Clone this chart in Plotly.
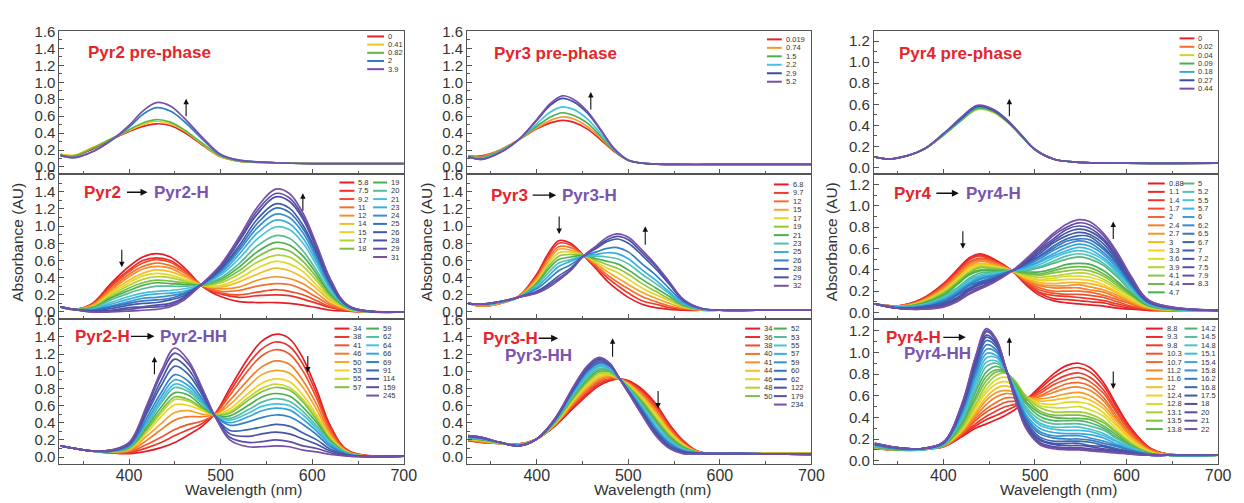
import plotly.graph_objects as go
from plotly.colors import sample_colorscale

# ------------------------------------------------------------------ data
# Pyr2 pre-phase
WL_A = [325, 340, 360, 380, 400, 415, 430, 445, 460, 480, 500, 520, 560, 600, 640, 700]
LAB_A = ["0", "0.41", "0.82", "2", "3.9"]
SPEC_A = [
    [0.15, 0.13, 0.21, 0.32, 0.42, 0.48, 0.51, 0.49, 0.41, 0.26, 0.12, 0.07, 0.05, 0.04, 0.04, 0.04],
    [0.15, 0.14, 0.23, 0.33, 0.43, 0.50, 0.54, 0.51, 0.43, 0.27, 0.12, 0.07, 0.05, 0.04, 0.04, 0.04],
    [0.14, 0.13, 0.22, 0.33, 0.44, 0.52, 0.56, 0.53, 0.44, 0.28, 0.13, 0.07, 0.05, 0.04, 0.04, 0.04],
    [0.13, 0.11, 0.18, 0.31, 0.47, 0.62, 0.70, 0.66, 0.54, 0.33, 0.14, 0.08, 0.05, 0.04, 0.04, 0.04],
    [0.14, 0.11, 0.18, 0.31, 0.49, 0.66, 0.76, 0.72, 0.58, 0.35, 0.15, 0.08, 0.05, 0.04, 0.04, 0.04],
]

# Pyr2 -> Pyr2-H
WL_B = [325, 340, 360, 380, 400, 415, 430, 445, 460, 480, 500, 520, 540, 560, 575, 590, 605, 620, 640, 700]
LAB_B = ["5.8", "7.5", "9.2", "11", "12", "14", "15", "17", "18", "19", "20", "21", "23", "24", "25", "26", "28", "29", "31"]
SPEC_B = [
    [0.06, 0.03, 0.10, 0.33, 0.53, 0.64, 0.68, 0.64, 0.52, 0.30, 0.18, 0.12, 0.11, 0.11, 0.10, 0.08, 0.05, 0.02, 0.01, 0.00],
    [0.06, 0.03, 0.09, 0.31, 0.49, 0.60, 0.63, 0.60, 0.49, 0.30, 0.21, 0.17, 0.19, 0.20, 0.19, 0.15, 0.10, 0.05, 0.01, 0.00],
    [0.06, 0.03, 0.09, 0.29, 0.47, 0.57, 0.61, 0.58, 0.48, 0.30, 0.22, 0.20, 0.23, 0.26, 0.24, 0.20, 0.13, 0.06, 0.02, 0.00],
    [0.06, 0.03, 0.08, 0.27, 0.44, 0.53, 0.57, 0.54, 0.46, 0.31, 0.24, 0.25, 0.30, 0.33, 0.32, 0.26, 0.17, 0.08, 0.02, 0.00],
    [0.06, 0.03, 0.08, 0.25, 0.41, 0.50, 0.53, 0.51, 0.43, 0.31, 0.27, 0.29, 0.37, 0.41, 0.39, 0.33, 0.22, 0.10, 0.02, 0.00],
    [0.06, 0.03, 0.07, 0.23, 0.37, 0.45, 0.49, 0.47, 0.41, 0.31, 0.29, 0.35, 0.44, 0.51, 0.48, 0.40, 0.27, 0.13, 0.03, 0.00],
    [0.06, 0.03, 0.06, 0.21, 0.34, 0.42, 0.45, 0.43, 0.38, 0.31, 0.31, 0.39, 0.51, 0.59, 0.56, 0.47, 0.31, 0.15, 0.03, 0.00],
    [0.06, 0.03, 0.06, 0.19, 0.31, 0.38, 0.41, 0.40, 0.36, 0.31, 0.34, 0.44, 0.58, 0.66, 0.64, 0.53, 0.36, 0.17, 0.04, 0.00],
    [0.06, 0.03, 0.05, 0.17, 0.28, 0.34, 0.37, 0.36, 0.34, 0.31, 0.36, 0.48, 0.64, 0.74, 0.71, 0.59, 0.40, 0.19, 0.04, 0.00],
    [0.06, 0.03, 0.05, 0.16, 0.25, 0.31, 0.34, 0.33, 0.32, 0.32, 0.38, 0.52, 0.70, 0.81, 0.78, 0.65, 0.44, 0.21, 0.04, 0.00],
    [0.06, 0.03, 0.04, 0.14, 0.22, 0.27, 0.30, 0.30, 0.30, 0.32, 0.40, 0.56, 0.77, 0.89, 0.86, 0.71, 0.48, 0.23, 0.05, 0.00],
    [0.06, 0.03, 0.03, 0.11, 0.18, 0.22, 0.24, 0.25, 0.27, 0.32, 0.43, 0.62, 0.85, 0.99, 0.96, 0.80, 0.54, 0.26, 0.05, 0.00],
    [0.06, 0.03, 0.03, 0.09, 0.15, 0.19, 0.21, 0.22, 0.24, 0.32, 0.45, 0.67, 0.92, 1.07, 1.03, 0.86, 0.58, 0.28, 0.05, 0.00],
    [0.06, 0.03, 0.02, 0.07, 0.12, 0.16, 0.17, 0.19, 0.22, 0.32, 0.47, 0.71, 0.98, 1.14, 1.10, 0.92, 0.62, 0.30, 0.06, 0.00],
    [0.06, 0.03, 0.02, 0.06, 0.10, 0.13, 0.14, 0.16, 0.21, 0.32, 0.49, 0.74, 1.03, 1.21, 1.16, 0.97, 0.66, 0.32, 0.06, 0.00],
    [0.06, 0.03, 0.01, 0.04, 0.08, 0.10, 0.11, 0.14, 0.19, 0.33, 0.50, 0.77, 1.08, 1.26, 1.21, 1.01, 0.69, 0.33, 0.06, 0.00],
    [0.06, 0.03, 0.01, 0.02, 0.05, 0.06, 0.08, 0.10, 0.17, 0.33, 0.52, 0.82, 1.14, 1.34, 1.29, 1.08, 0.73, 0.36, 0.07, 0.00],
    [0.06, 0.03, 0.00, 0.01, 0.03, 0.05, 0.06, 0.08, 0.16, 0.33, 0.54, 0.84, 1.18, 1.38, 1.33, 1.11, 0.75, 0.37, 0.07, 0.00],
    [0.06, 0.03, 0.00, 0.00, 0.01, 0.02, 0.03, 0.06, 0.14, 0.33, 0.55, 0.87, 1.22, 1.43, 1.38, 1.15, 0.78, 0.38, 0.07, 0.00],
]

# Pyr2-H -> Pyr2-HH
WL_C = [325, 340, 360, 380, 400, 420, 435, 450, 465, 480, 495, 510, 530, 545, 560, 575, 590, 605, 620, 640, 700]
LAB_C = ["34", "38", "41", "46", "50", "53", "55", "57", "59", "62", "64", "66", "69", "91", "114", "159", "245"]
SPEC_C = [
    [0.13, 0.10, 0.07, 0.05, 0.04, 0.07, 0.11, 0.17, 0.26, 0.36, 0.52, 0.80, 1.15, 1.35, 1.43, 1.38, 1.15, 0.78, 0.36, 0.07, 0.01],
    [0.13, 0.10, 0.07, 0.05, 0.05, 0.11, 0.17, 0.25, 0.32, 0.39, 0.52, 0.76, 1.08, 1.26, 1.34, 1.29, 1.08, 0.73, 0.34, 0.07, 0.01],
    [0.13, 0.10, 0.07, 0.05, 0.06, 0.15, 0.23, 0.32, 0.38, 0.42, 0.51, 0.72, 1.01, 1.18, 1.25, 1.20, 1.00, 0.68, 0.31, 0.06, 0.01],
    [0.13, 0.10, 0.07, 0.06, 0.07, 0.20, 0.32, 0.43, 0.47, 0.47, 0.50, 0.66, 0.90, 1.05, 1.12, 1.08, 0.89, 0.61, 0.28, 0.06, 0.01],
    [0.13, 0.10, 0.07, 0.06, 0.08, 0.25, 0.39, 0.52, 0.54, 0.50, 0.50, 0.61, 0.82, 0.96, 1.01, 0.98, 0.81, 0.55, 0.25, 0.05, 0.01],
    [0.13, 0.10, 0.07, 0.06, 0.09, 0.29, 0.47, 0.61, 0.60, 0.54, 0.49, 0.56, 0.74, 0.86, 0.91, 0.88, 0.72, 0.49, 0.23, 0.05, 0.01],
    [0.13, 0.10, 0.07, 0.06, 0.10, 0.32, 0.51, 0.67, 0.65, 0.56, 0.49, 0.53, 0.69, 0.80, 0.85, 0.81, 0.67, 0.46, 0.21, 0.04, 0.01],
    [0.13, 0.10, 0.07, 0.06, 0.10, 0.33, 0.54, 0.70, 0.67, 0.57, 0.49, 0.51, 0.66, 0.76, 0.81, 0.78, 0.64, 0.43, 0.20, 0.04, 0.01],
    [0.13, 0.10, 0.07, 0.07, 0.11, 0.36, 0.58, 0.75, 0.72, 0.59, 0.48, 0.48, 0.60, 0.70, 0.74, 0.71, 0.58, 0.40, 0.19, 0.04, 0.01],
    [0.13, 0.10, 0.07, 0.07, 0.12, 0.39, 0.63, 0.81, 0.76, 0.62, 0.48, 0.45, 0.55, 0.64, 0.68, 0.65, 0.53, 0.36, 0.17, 0.04, 0.01],
    [0.13, 0.10, 0.07, 0.07, 0.12, 0.41, 0.66, 0.85, 0.79, 0.63, 0.48, 0.43, 0.51, 0.59, 0.62, 0.60, 0.49, 0.33, 0.16, 0.03, 0.01],
    [0.13, 0.10, 0.07, 0.07, 0.13, 0.43, 0.70, 0.90, 0.83, 0.65, 0.47, 0.40, 0.47, 0.54, 0.57, 0.55, 0.44, 0.30, 0.14, 0.03, 0.01],
    [0.13, 0.10, 0.07, 0.07, 0.13, 0.47, 0.75, 0.96, 0.88, 0.68, 0.47, 0.37, 0.41, 0.46, 0.49, 0.47, 0.38, 0.26, 0.12, 0.03, 0.01],
    [0.13, 0.10, 0.07, 0.07, 0.15, 0.52, 0.83, 1.06, 0.96, 0.72, 0.46, 0.31, 0.32, 0.35, 0.38, 0.36, 0.28, 0.20, 0.09, 0.02, 0.01],
    [0.13, 0.10, 0.07, 0.08, 0.15, 0.55, 0.89, 1.14, 1.02, 0.75, 0.46, 0.27, 0.24, 0.27, 0.29, 0.27, 0.21, 0.15, 0.07, 0.02, 0.01],
    [0.13, 0.10, 0.07, 0.08, 0.16, 0.59, 0.96, 1.21, 1.08, 0.78, 0.45, 0.23, 0.17, 0.18, 0.20, 0.18, 0.13, 0.10, 0.05, 0.01, 0.01],
    [0.13, 0.10, 0.07, 0.08, 0.17, 0.62, 1.00, 1.27, 1.12, 0.80, 0.45, 0.20, 0.12, 0.12, 0.13, 0.12, 0.08, 0.06, 0.03, 0.01, 0.01],
]

# Pyr3 pre-phase
WL_D = [325, 340, 360, 380, 400, 415, 428, 440, 455, 470, 485, 500, 520, 560, 600, 640, 700]
LAB_D = ["0.019", "0.74", "1.5", "2.2", "2.9", "5.2"]
SPEC_D = [
    [0.13, 0.13, 0.20, 0.32, 0.45, 0.52, 0.55, 0.53, 0.45, 0.32, 0.18, 0.08, 0.04, 0.03, 0.03, 0.03, 0.03],
    [0.13, 0.12, 0.20, 0.32, 0.46, 0.55, 0.59, 0.57, 0.48, 0.34, 0.19, 0.08, 0.04, 0.03, 0.03, 0.03, 0.03],
    [0.13, 0.11, 0.19, 0.32, 0.48, 0.59, 0.64, 0.61, 0.52, 0.36, 0.19, 0.08, 0.04, 0.03, 0.03, 0.03, 0.03],
    [0.12, 0.10, 0.18, 0.32, 0.51, 0.65, 0.71, 0.68, 0.57, 0.39, 0.20, 0.08, 0.04, 0.03, 0.03, 0.03, 0.03],
    [0.12, 0.09, 0.17, 0.32, 0.55, 0.73, 0.81, 0.77, 0.64, 0.43, 0.21, 0.08, 0.04, 0.03, 0.03, 0.03, 0.03],
    [0.12, 0.09, 0.17, 0.32, 0.56, 0.75, 0.84, 0.80, 0.66, 0.44, 0.21, 0.08, 0.04, 0.03, 0.03, 0.03, 0.03],
]

# Pyr3 -> Pyr3-H
WL_E = [325, 340, 360, 380, 400, 412, 424, 437, 451, 465, 477, 488, 500, 515, 530, 545, 560, 580, 600, 640, 700]
LAB_E = ["6.8", "9.7", "12", "15", "17", "19", "21", "23", "25", "26", "28", "29", "32"]
SPEC_E = [
    [0.10, 0.07, 0.10, 0.18, 0.44, 0.67, 0.83, 0.80, 0.66, 0.50, 0.36, 0.26, 0.17, 0.09, 0.05, 0.03, 0.02, 0.02, 0.02, 0.02, 0.02],
    [0.10, 0.07, 0.10, 0.18, 0.42, 0.64, 0.80, 0.78, 0.66, 0.52, 0.40, 0.31, 0.22, 0.13, 0.09, 0.05, 0.03, 0.02, 0.02, 0.02, 0.02],
    [0.10, 0.07, 0.10, 0.18, 0.40, 0.61, 0.76, 0.75, 0.66, 0.54, 0.43, 0.35, 0.27, 0.18, 0.12, 0.07, 0.04, 0.02, 0.02, 0.02, 0.02],
    [0.10, 0.07, 0.10, 0.17, 0.38, 0.58, 0.73, 0.72, 0.66, 0.56, 0.47, 0.40, 0.32, 0.23, 0.16, 0.10, 0.05, 0.02, 0.02, 0.02, 0.02],
    [0.10, 0.08, 0.11, 0.17, 0.36, 0.55, 0.69, 0.70, 0.66, 0.58, 0.51, 0.46, 0.38, 0.28, 0.20, 0.13, 0.06, 0.03, 0.02, 0.02, 0.02],
    [0.10, 0.08, 0.11, 0.17, 0.34, 0.52, 0.65, 0.67, 0.66, 0.60, 0.55, 0.51, 0.44, 0.33, 0.24, 0.15, 0.07, 0.03, 0.02, 0.02, 0.02],
    [0.10, 0.08, 0.11, 0.17, 0.33, 0.49, 0.61, 0.64, 0.66, 0.62, 0.59, 0.56, 0.49, 0.38, 0.28, 0.18, 0.08, 0.03, 0.02, 0.02, 0.02],
    [0.10, 0.08, 0.11, 0.17, 0.31, 0.45, 0.57, 0.61, 0.65, 0.65, 0.64, 0.62, 0.56, 0.44, 0.33, 0.21, 0.09, 0.03, 0.02, 0.02, 0.02],
    [0.10, 0.08, 0.11, 0.17, 0.29, 0.41, 0.53, 0.59, 0.65, 0.67, 0.69, 0.68, 0.62, 0.49, 0.37, 0.23, 0.10, 0.03, 0.02, 0.02, 0.02],
    [0.10, 0.09, 0.12, 0.17, 0.27, 0.37, 0.48, 0.55, 0.65, 0.70, 0.74, 0.75, 0.70, 0.56, 0.43, 0.27, 0.12, 0.04, 0.02, 0.02, 0.02],
    [0.10, 0.09, 0.12, 0.17, 0.24, 0.32, 0.42, 0.51, 0.65, 0.74, 0.82, 0.85, 0.80, 0.66, 0.50, 0.32, 0.14, 0.04, 0.02, 0.02, 0.02],
    [0.10, 0.09, 0.12, 0.17, 0.23, 0.30, 0.39, 0.49, 0.65, 0.76, 0.84, 0.88, 0.84, 0.69, 0.53, 0.33, 0.14, 0.04, 0.02, 0.02, 0.02],
    [0.10, 0.09, 0.12, 0.17, 0.22, 0.28, 0.37, 0.48, 0.65, 0.77, 0.87, 0.91, 0.87, 0.72, 0.55, 0.35, 0.15, 0.04, 0.02, 0.02, 0.02],
]

# Pyr3-H -> Pyr3-HH
WL_F = [325, 340, 360, 380, 400, 420, 440, 455, 468, 480, 490, 500, 515, 530, 545, 560, 575, 590, 620, 700]
LAB_F = ["34", "36", "38", "40", "41", "44", "46", "48", "50", "52", "53", "55", "57", "59", "60", "62", "122", "179", "234"]
SPEC_F = [
    [0.19, 0.17, 0.16, 0.15, 0.21, 0.36, 0.57, 0.72, 0.83, 0.89, 0.91, 0.89, 0.79, 0.62, 0.38, 0.19, 0.07, 0.04, 0.04, 0.04],
    [0.19, 0.17, 0.16, 0.15, 0.21, 0.37, 0.59, 0.74, 0.85, 0.90, 0.91, 0.88, 0.77, 0.60, 0.36, 0.18, 0.07, 0.04, 0.04, 0.04],
    [0.20, 0.18, 0.16, 0.15, 0.21, 0.37, 0.60, 0.76, 0.87, 0.91, 0.91, 0.87, 0.75, 0.58, 0.35, 0.17, 0.07, 0.04, 0.04, 0.04],
    [0.20, 0.18, 0.16, 0.15, 0.21, 0.38, 0.62, 0.78, 0.89, 0.93, 0.91, 0.86, 0.74, 0.55, 0.33, 0.16, 0.06, 0.04, 0.04, 0.04],
    [0.20, 0.18, 0.16, 0.15, 0.21, 0.38, 0.63, 0.80, 0.91, 0.94, 0.91, 0.86, 0.72, 0.53, 0.31, 0.15, 0.06, 0.04, 0.04, 0.04],
    [0.21, 0.19, 0.16, 0.14, 0.21, 0.39, 0.65, 0.82, 0.93, 0.95, 0.91, 0.85, 0.70, 0.51, 0.30, 0.15, 0.06, 0.04, 0.04, 0.04],
    [0.21, 0.19, 0.16, 0.14, 0.21, 0.39, 0.66, 0.84, 0.95, 0.96, 0.91, 0.84, 0.68, 0.49, 0.28, 0.14, 0.06, 0.04, 0.04, 0.04],
    [0.22, 0.20, 0.16, 0.14, 0.21, 0.40, 0.68, 0.86, 0.97, 0.97, 0.91, 0.83, 0.66, 0.46, 0.26, 0.13, 0.06, 0.04, 0.04, 0.04],
    [0.22, 0.20, 0.16, 0.14, 0.21, 0.40, 0.69, 0.88, 0.99, 0.99, 0.91, 0.82, 0.65, 0.44, 0.25, 0.12, 0.06, 0.04, 0.04, 0.04],
    [0.22, 0.20, 0.17, 0.14, 0.21, 0.41, 0.71, 0.90, 1.01, 1.00, 0.92, 0.81, 0.63, 0.42, 0.23, 0.11, 0.05, 0.04, 0.04, 0.03],
    [0.23, 0.21, 0.17, 0.14, 0.21, 0.41, 0.72, 0.92, 1.03, 1.01, 0.92, 0.81, 0.61, 0.40, 0.21, 0.10, 0.05, 0.04, 0.04, 0.03],
    [0.23, 0.21, 0.17, 0.14, 0.21, 0.42, 0.74, 0.94, 1.05, 1.02, 0.92, 0.80, 0.59, 0.38, 0.20, 0.09, 0.05, 0.04, 0.04, 0.03],
    [0.23, 0.21, 0.17, 0.14, 0.21, 0.42, 0.75, 0.96, 1.07, 1.03, 0.92, 0.79, 0.57, 0.35, 0.18, 0.08, 0.05, 0.04, 0.04, 0.03],
    [0.24, 0.22, 0.17, 0.13, 0.21, 0.43, 0.77, 0.99, 1.09, 1.05, 0.92, 0.78, 0.56, 0.33, 0.16, 0.07, 0.05, 0.04, 0.04, 0.03],
    [0.24, 0.22, 0.17, 0.13, 0.21, 0.43, 0.78, 1.00, 1.10, 1.06, 0.92, 0.77, 0.54, 0.31, 0.15, 0.07, 0.05, 0.04, 0.04, 0.03],
    [0.24, 0.22, 0.17, 0.13, 0.21, 0.44, 0.79, 1.02, 1.12, 1.07, 0.92, 0.77, 0.53, 0.29, 0.13, 0.06, 0.04, 0.04, 0.04, 0.03],
    [0.25, 0.23, 0.17, 0.13, 0.21, 0.44, 0.80, 1.04, 1.14, 1.08, 0.92, 0.76, 0.51, 0.28, 0.12, 0.05, 0.04, 0.04, 0.04, 0.03],
    [0.25, 0.23, 0.17, 0.13, 0.21, 0.45, 0.81, 1.05, 1.15, 1.08, 0.92, 0.75, 0.50, 0.26, 0.11, 0.04, 0.04, 0.04, 0.04, 0.03],
    [0.25, 0.23, 0.17, 0.13, 0.21, 0.45, 0.82, 1.06, 1.16, 1.09, 0.92, 0.75, 0.49, 0.25, 0.10, 0.04, 0.04, 0.04, 0.04, 0.03],
]

# Pyr4 pre-phase
WL_G = [325, 340, 360, 380, 400, 420, 437, 455, 470, 485, 500, 520, 545, 600, 700]
LAB_G = ["0", "0.02", "0.04", "0.09", "0.18", "0.27", "0.44"]
SPEC_G = [
    [0.10, 0.08, 0.11, 0.18, 0.31, 0.46, 0.57, 0.53, 0.44, 0.30, 0.17, 0.08, 0.05, 0.04, 0.04],
    [0.10, 0.08, 0.11, 0.18, 0.31, 0.46, 0.57, 0.53, 0.44, 0.30, 0.17, 0.08, 0.05, 0.04, 0.04],
    [0.10, 0.08, 0.11, 0.18, 0.30, 0.45, 0.55, 0.52, 0.43, 0.30, 0.17, 0.08, 0.05, 0.04, 0.04],
    [0.10, 0.08, 0.11, 0.18, 0.31, 0.45, 0.56, 0.53, 0.43, 0.30, 0.17, 0.08, 0.05, 0.04, 0.04],
    [0.10, 0.08, 0.11, 0.18, 0.31, 0.46, 0.57, 0.54, 0.44, 0.30, 0.17, 0.08, 0.05, 0.04, 0.04],
    [0.10, 0.08, 0.11, 0.18, 0.32, 0.47, 0.58, 0.54, 0.44, 0.31, 0.17, 0.08, 0.05, 0.04, 0.04],
    [0.10, 0.08, 0.11, 0.18, 0.32, 0.48, 0.59, 0.55, 0.45, 0.31, 0.17, 0.08, 0.05, 0.04, 0.04],
]

# Pyr4 -> Pyr4-H
WL_H = [325, 350, 375, 400, 415, 428, 440, 455, 475, 490, 505, 520, 535, 548, 560, 575, 590, 605, 625, 700]
LAB_H = ["0.88", "1.1", "1.4", "1.7", "2", "2.4", "2.7", "3", "3.3", "3.6", "3.9", "4.1", "4.4", "4.7",
         "5", "5.2", "5.5", "5.7", "6", "6.2", "6.5", "6.7", "7", "7.2", "7.5", "7.9", "8.3"]
SPEC_H = [
    [0.08, 0.06, 0.12, 0.27, 0.40, 0.51, 0.55, 0.50, 0.39, 0.26, 0.16, 0.11, 0.09, 0.08, 0.07, 0.06, 0.04, 0.03, 0.02, 0.02],
    [0.08, 0.06, 0.12, 0.26, 0.39, 0.50, 0.54, 0.49, 0.39, 0.27, 0.18, 0.13, 0.12, 0.11, 0.10, 0.09, 0.06, 0.04, 0.02, 0.02],
    [0.08, 0.06, 0.11, 0.25, 0.38, 0.49, 0.53, 0.48, 0.39, 0.28, 0.19, 0.16, 0.15, 0.14, 0.13, 0.11, 0.08, 0.05, 0.03, 0.02],
    [0.08, 0.06, 0.11, 0.25, 0.37, 0.47, 0.51, 0.48, 0.39, 0.29, 0.21, 0.18, 0.17, 0.17, 0.16, 0.14, 0.10, 0.06, 0.03, 0.02],
    [0.08, 0.06, 0.11, 0.24, 0.36, 0.46, 0.50, 0.47, 0.39, 0.30, 0.23, 0.20, 0.20, 0.20, 0.19, 0.16, 0.12, 0.08, 0.03, 0.02],
    [0.08, 0.06, 0.10, 0.23, 0.34, 0.45, 0.49, 0.46, 0.39, 0.30, 0.25, 0.23, 0.23, 0.23, 0.21, 0.19, 0.14, 0.09, 0.04, 0.02],
    [0.08, 0.06, 0.10, 0.22, 0.33, 0.43, 0.48, 0.45, 0.39, 0.31, 0.26, 0.25, 0.25, 0.26, 0.24, 0.21, 0.16, 0.10, 0.04, 0.02],
    [0.08, 0.05, 0.10, 0.21, 0.32, 0.42, 0.46, 0.44, 0.39, 0.32, 0.28, 0.27, 0.28, 0.28, 0.27, 0.24, 0.18, 0.11, 0.04, 0.02],
    [0.08, 0.05, 0.09, 0.20, 0.31, 0.41, 0.45, 0.43, 0.39, 0.33, 0.30, 0.30, 0.31, 0.31, 0.30, 0.26, 0.19, 0.12, 0.05, 0.02],
    [0.08, 0.05, 0.09, 0.20, 0.30, 0.40, 0.44, 0.43, 0.39, 0.34, 0.31, 0.32, 0.34, 0.34, 0.33, 0.29, 0.21, 0.13, 0.05, 0.02],
    [0.08, 0.05, 0.09, 0.19, 0.29, 0.38, 0.43, 0.42, 0.39, 0.35, 0.33, 0.34, 0.36, 0.37, 0.36, 0.31, 0.23, 0.15, 0.05, 0.02],
    [0.08, 0.05, 0.08, 0.18, 0.28, 0.37, 0.42, 0.41, 0.39, 0.36, 0.35, 0.37, 0.39, 0.40, 0.39, 0.34, 0.25, 0.16, 0.06, 0.02],
    [0.08, 0.05, 0.08, 0.17, 0.27, 0.36, 0.40, 0.40, 0.39, 0.37, 0.36, 0.39, 0.42, 0.43, 0.42, 0.36, 0.27, 0.17, 0.06, 0.02],
    [0.08, 0.05, 0.08, 0.16, 0.26, 0.35, 0.39, 0.39, 0.39, 0.38, 0.38, 0.41, 0.45, 0.46, 0.45, 0.39, 0.29, 0.18, 0.06, 0.02],
    [0.08, 0.05, 0.07, 0.15, 0.23, 0.32, 0.37, 0.38, 0.39, 0.39, 0.42, 0.46, 0.50, 0.52, 0.50, 0.44, 0.33, 0.20, 0.07, 0.02],
    [0.08, 0.05, 0.07, 0.14, 0.22, 0.31, 0.35, 0.37, 0.39, 0.40, 0.43, 0.48, 0.53, 0.55, 0.53, 0.46, 0.35, 0.21, 0.07, 0.02],
    [0.08, 0.05, 0.06, 0.13, 0.21, 0.30, 0.34, 0.36, 0.39, 0.41, 0.45, 0.51, 0.56, 0.58, 0.56, 0.49, 0.37, 0.23, 0.08, 0.02],
    [0.08, 0.05, 0.06, 0.12, 0.20, 0.28, 0.33, 0.35, 0.39, 0.42, 0.47, 0.53, 0.58, 0.61, 0.59, 0.51, 0.39, 0.24, 0.08, 0.02],
    [0.08, 0.05, 0.06, 0.12, 0.19, 0.27, 0.32, 0.35, 0.39, 0.43, 0.48, 0.55, 0.61, 0.64, 0.62, 0.54, 0.41, 0.25, 0.08, 0.02],
    [0.08, 0.04, 0.05, 0.11, 0.18, 0.26, 0.31, 0.34, 0.39, 0.44, 0.50, 0.58, 0.64, 0.67, 0.65, 0.56, 0.43, 0.26, 0.09, 0.02],
    [0.08, 0.04, 0.05, 0.10, 0.17, 0.25, 0.29, 0.33, 0.39, 0.45, 0.52, 0.60, 0.67, 0.69, 0.68, 0.59, 0.45, 0.27, 0.09, 0.02],
    [0.08, 0.04, 0.05, 0.09, 0.16, 0.23, 0.28, 0.32, 0.39, 0.46, 0.53, 0.62, 0.69, 0.72, 0.71, 0.61, 0.46, 0.28, 0.09, 0.02],
    [0.08, 0.04, 0.04, 0.08, 0.14, 0.22, 0.27, 0.31, 0.39, 0.46, 0.55, 0.65, 0.72, 0.75, 0.73, 0.64, 0.48, 0.29, 0.10, 0.02],
    [0.08, 0.04, 0.04, 0.07, 0.13, 0.21, 0.26, 0.30, 0.39, 0.47, 0.57, 0.67, 0.75, 0.78, 0.76, 0.67, 0.50, 0.31, 0.10, 0.02],
    [0.08, 0.04, 0.04, 0.07, 0.12, 0.20, 0.24, 0.30, 0.39, 0.48, 0.59, 0.69, 0.78, 0.81, 0.79, 0.69, 0.52, 0.32, 0.10, 0.02],
    [0.08, 0.04, 0.03, 0.06, 0.11, 0.18, 0.23, 0.29, 0.39, 0.49, 0.60, 0.72, 0.80, 0.84, 0.82, 0.72, 0.54, 0.33, 0.11, 0.02],
    [0.08, 0.04, 0.03, 0.05, 0.10, 0.17, 0.22, 0.28, 0.39, 0.50, 0.62, 0.74, 0.83, 0.87, 0.85, 0.74, 0.56, 0.34, 0.11, 0.02],
]

# Pyr4-H -> Pyr4-HH
WL_I = [325, 350, 375, 400, 420, 435, 447, 458, 468, 478, 490, 505, 520, 535, 548, 560, 575, 590, 605, 625, 645, 700]
LAB_I = ["8.8", "9.3", "9.8", "10.3", "10.7", "11.2", "11.6", "12", "12.4", "12.8", "13.1", "13.5", "13.8",
         "14.2", "14.5", "14.8", "15.1", "15.4", "15.8", "16.2", "16.8", "17.5", "18", "20", "21", "22"]
SPEC_I = [
    [0.11, 0.10, 0.11, 0.13, 0.22, 0.30, 0.34, 0.38, 0.42, 0.47, 0.56, 0.68, 0.80, 0.88, 0.90, 0.86, 0.72, 0.50, 0.30, 0.12, 0.06, 0.05],
    [0.11, 0.10, 0.11, 0.13, 0.23, 0.32, 0.38, 0.42, 0.46, 0.50, 0.56, 0.66, 0.77, 0.84, 0.86, 0.82, 0.69, 0.48, 0.29, 0.12, 0.06, 0.05],
    [0.11, 0.10, 0.11, 0.13, 0.24, 0.34, 0.41, 0.46, 0.50, 0.52, 0.57, 0.64, 0.73, 0.79, 0.81, 0.77, 0.65, 0.45, 0.27, 0.11, 0.06, 0.05],
    [0.11, 0.10, 0.11, 0.13, 0.24, 0.37, 0.45, 0.50, 0.54, 0.55, 0.57, 0.62, 0.70, 0.75, 0.77, 0.73, 0.62, 0.43, 0.26, 0.11, 0.06, 0.05],
    [0.11, 0.10, 0.11, 0.13, 0.25, 0.39, 0.48, 0.54, 0.58, 0.58, 0.58, 0.60, 0.66, 0.71, 0.72, 0.69, 0.58, 0.40, 0.24, 0.10, 0.06, 0.05],
    [0.12, 0.10, 0.11, 0.14, 0.26, 0.41, 0.52, 0.59, 0.62, 0.61, 0.58, 0.59, 0.63, 0.67, 0.68, 0.65, 0.55, 0.38, 0.23, 0.10, 0.06, 0.05],
    [0.12, 0.10, 0.10, 0.14, 0.27, 0.43, 0.56, 0.63, 0.65, 0.63, 0.58, 0.57, 0.59, 0.62, 0.63, 0.60, 0.51, 0.36, 0.22, 0.09, 0.05, 0.05],
    [0.12, 0.10, 0.10, 0.14, 0.28, 0.45, 0.59, 0.67, 0.69, 0.66, 0.59, 0.55, 0.56, 0.58, 0.59, 0.56, 0.48, 0.33, 0.20, 0.09, 0.05, 0.05],
    [0.12, 0.10, 0.10, 0.14, 0.28, 0.48, 0.63, 0.71, 0.73, 0.69, 0.59, 0.53, 0.52, 0.54, 0.54, 0.52, 0.44, 0.31, 0.19, 0.08, 0.05, 0.05],
    [0.12, 0.10, 0.10, 0.14, 0.29, 0.50, 0.66, 0.75, 0.77, 0.71, 0.60, 0.51, 0.49, 0.49, 0.50, 0.47, 0.41, 0.28, 0.17, 0.08, 0.05, 0.05],
    [0.12, 0.10, 0.10, 0.14, 0.30, 0.52, 0.70, 0.79, 0.81, 0.74, 0.60, 0.49, 0.45, 0.45, 0.45, 0.43, 0.37, 0.26, 0.16, 0.07, 0.05, 0.05],
    [0.12, 0.10, 0.10, 0.14, 0.32, 0.56, 0.74, 0.82, 0.81, 0.73, 0.58, 0.46, 0.42, 0.42, 0.42, 0.40, 0.35, 0.25, 0.15, 0.07, 0.05, 0.05],
    [0.13, 0.10, 0.10, 0.14, 0.34, 0.59, 0.78, 0.84, 0.82, 0.71, 0.55, 0.44, 0.40, 0.39, 0.39, 0.38, 0.32, 0.23, 0.14, 0.07, 0.05, 0.05],
    [0.13, 0.10, 0.10, 0.15, 0.35, 0.63, 0.82, 0.87, 0.82, 0.70, 0.53, 0.41, 0.37, 0.37, 0.37, 0.35, 0.30, 0.21, 0.14, 0.06, 0.05, 0.05],
    [0.13, 0.11, 0.10, 0.15, 0.37, 0.66, 0.87, 0.90, 0.83, 0.69, 0.50, 0.38, 0.34, 0.34, 0.34, 0.32, 0.28, 0.20, 0.13, 0.06, 0.05, 0.05],
    [0.14, 0.11, 0.10, 0.15, 0.39, 0.70, 0.91, 0.92, 0.83, 0.68, 0.48, 0.35, 0.31, 0.31, 0.31, 0.29, 0.25, 0.18, 0.12, 0.06, 0.05, 0.05],
    [0.14, 0.11, 0.10, 0.15, 0.41, 0.73, 0.95, 0.95, 0.83, 0.66, 0.46, 0.33, 0.29, 0.28, 0.28, 0.27, 0.23, 0.17, 0.11, 0.06, 0.05, 0.05],
    [0.14, 0.11, 0.11, 0.16, 0.42, 0.77, 0.99, 0.97, 0.84, 0.65, 0.43, 0.30, 0.26, 0.25, 0.25, 0.24, 0.21, 0.15, 0.10, 0.06, 0.05, 0.05],
    [0.15, 0.11, 0.11, 0.16, 0.44, 0.80, 1.03, 1.00, 0.84, 0.64, 0.41, 0.27, 0.23, 0.23, 0.23, 0.21, 0.18, 0.14, 0.10, 0.06, 0.05, 0.05],
    [0.15, 0.11, 0.11, 0.16, 0.46, 0.83, 1.07, 1.02, 0.85, 0.63, 0.39, 0.25, 0.21, 0.20, 0.20, 0.19, 0.16, 0.13, 0.09, 0.06, 0.05, 0.05],
    [0.15, 0.12, 0.11, 0.16, 0.47, 0.86, 1.11, 1.05, 0.85, 0.62, 0.37, 0.22, 0.18, 0.18, 0.18, 0.17, 0.14, 0.11, 0.08, 0.05, 0.05, 0.05],
    [0.15, 0.12, 0.11, 0.17, 0.48, 0.89, 1.14, 1.07, 0.85, 0.61, 0.35, 0.20, 0.16, 0.16, 0.16, 0.14, 0.13, 0.10, 0.08, 0.05, 0.05, 0.05],
    [0.16, 0.12, 0.11, 0.17, 0.50, 0.91, 1.16, 1.08, 0.85, 0.60, 0.33, 0.19, 0.15, 0.14, 0.14, 0.13, 0.11, 0.09, 0.07, 0.05, 0.05, 0.05],
    [0.16, 0.12, 0.11, 0.17, 0.51, 0.93, 1.19, 1.10, 0.86, 0.59, 0.32, 0.17, 0.13, 0.12, 0.12, 0.11, 0.10, 0.08, 0.07, 0.05, 0.05, 0.05],
    [0.16, 0.12, 0.11, 0.17, 0.51, 0.95, 1.20, 1.11, 0.86, 0.58, 0.31, 0.16, 0.12, 0.11, 0.11, 0.10, 0.09, 0.08, 0.06, 0.05, 0.05, 0.05],
    [0.16, 0.12, 0.11, 0.17, 0.52, 0.96, 1.22, 1.12, 0.86, 0.58, 0.30, 0.15, 0.11, 0.10, 0.10, 0.09, 0.08, 0.07, 0.06, 0.05, 0.05, 0.05],
]

# ------------------------------------------------------------------ styling / layout
PAGE_W, PAGE_H = 1244, 503
OFF = 8                      # default page margin around the figure div
FIG_W, FIG_H = PAGE_W - OFF, PAGE_H - OFF
FONT = "Liberation Sans, Arial, Helvetica, sans-serif"
RED = "#E4262C"
PURPLE = "#7A54AE"
AXC = "#555555"
TXT = "#333333"

RAINBOW = [
    [0.00, "#E41E26"], [0.08, "#EC3A2A"], [0.16, "#F26B2C"], [0.24, "#F59A2A"],
    [0.30, "#F8CF22"], [0.36, "#D3DE2C"], [0.42, "#8CC63F"], [0.50, "#4BAF4F"],
    [0.56, "#58BE9A"], [0.62, "#45C4E0"], [0.68, "#36A8E0"], [0.75, "#3580C4"],
    [0.82, "#3A5DAA"], [0.90, "#4B4DA3"], [1.00, "#7650A8"],
]


def rainbow(n):
    return sample_colorscale(RAINBOW, [i / (n - 1) for i in range(n)])


def px(x):
    return (x - OFF) / FIG_W


def py(y):
    return 1 - (y - OFF) / FIG_H


COLS = [(60, 408), (472, 820), (883, 1231)]
ROWS = [(23, 170), (170, 319), (319, 468)]

PANELS = [
    dict(wl=WL_A, lab=LAB_A, spec=SPEC_A, row=0, col=0,
         colors=["#E8202A", "#F2C81E", "#5DB84A", "#2E7FC6", "#7650A8"],
         leg=[(371, 388, 390, 5)], ly=29, ldy=8.4,
         title=[("Pyr2 pre-phase", RED, 87, 45)], tarrow=None,
         arrows=[(188, 112, 93)]),
    dict(wl=WL_B, lab=LAB_B, spec=SPEC_B, row=1, col=0, colors=None,
         leg=[(343, 358, 360, 9), (377, 391, 393, 10)], ly=179, ldy=8.5,
         title=[("Pyr2", RED, 83, 189), ("Pyr2-H", PURPLE, 154, 189)], tarrow=(127, 149, 189),
         arrows=[(123, 247, 266), (306, 209, 190)]),
    dict(wl=WL_C, lab=LAB_C, spec=SPEC_C, row=2, col=0, colors=None,
         leg=[(338, 353, 355, 8), (370, 383, 385, 9)], ly=329, ldy=8.6,
         title=[("Pyr2-H", RED, 74, 337), ("Pyr2-HH", PURPLE, 160, 337)], tarrow=(131, 156, 337),
         arrows=[(156, 377, 358), (311, 356, 374)]),
    dict(wl=WL_D, lab=LAB_D, spec=SPEC_D, row=0, col=1,
         colors=["#E8202A", "#F59A2A", "#4BAF4F", "#45C4E0", "#3A4DA6", "#7650A8"],
         leg=[(775, 790, 792, 6)], ly=32, ldy=8.7,
         title=[("Pyr3 pre-phase", RED, 497, 47)], tarrow=None,
         arrows=[(597, 105, 86)]),
    dict(wl=WL_E, lab=LAB_E, spec=SPEC_E, row=1, col=1, colors=None,
         leg=[(782, 797, 799, 13)], ly=181, ldy=8.67,
         title=[("Pyr3", RED, 494, 192), ("Pyr3-H", PURPLE, 566, 192)], tarrow=(537, 562, 192),
         arrows=[(565, 213, 232), (652, 244, 224)]),
    dict(wl=WL_F, lab=LAB_F, spec=SPEC_F, row=2, col=1, colors=None,
         leg=[(753, 768, 770, 9), (782, 795, 797, 10)], ly=329, ldy=8.67,
         title=[("Pyr3-H", RED, 486, 339), ("Pyr3-HH", PURPLE, 508, 357)], tarrow=(543, 564, 339),
         arrows=[(619, 359, 339), (665, 392, 411)]),
    dict(wl=WL_G, lab=LAB_G, spec=SPEC_G, row=0, col=2,
         colors=["#E8202A", "#F26B2C", "#C8D630", "#4BAF4F", "#36A8E0", "#3A4DA6", "#7650A8"],
         leg=[(1192, 1207, 1209, 7)], ly=31, ldy=8.6,
         title=[("Pyr4 pre-phase", RED, 906, 47)], tarrow=None,
         arrows=[(1020, 112, 93)]),
    dict(wl=WL_H, lab=LAB_H, spec=SPEC_H, row=1, col=2, colors=None,
         leg=[(1160, 1177, 1179, 14), (1195, 1207, 1209, 13)], ly=180, ldy=8.6,
         title=[("Pyr4", RED, 901, 190), ("Pyr4-H", PURPLE, 974, 190)], tarrow=(945, 969, 190),
         arrows=[(973, 228, 247), (1125, 238, 219)]),
    dict(wl=WL_I, lab=LAB_I, spec=SPEC_I, row=2, col=2, colors=None,
         leg=[(1158, 1175, 1177, 13), (1197, 1210, 1212, 13)], ly=329, ldy=8.6,
         title=[("Pyr4-H", RED, 893, 338), ("Pyr4-HH", PURPLE, 911, 355)], tarrow=(952, 976, 338),
         arrows=[(1020, 358, 338), (1125, 372, 391)]),
]

fig = go.Figure()
layout = dict(
    width=FIG_W, height=FIG_H, margin=dict(l=0, r=0, t=0, b=0),
    paper_bgcolor="white", plot_bgcolor="white", showlegend=False,
    font=dict(family=FONT, color=TXT),
)
shapes, annos = [], []

for p in PANELS:
    r, c = p["row"], p["col"]
    idx = r * 3 + c + 1
    xs = "" if idx == 1 else str(idx)
    n = len(p["spec"])
    cols = p["colors"] or rainbow(n)

    for k in range(n):
        fig.add_trace(go.Scatter(
            x=p["wl"], y=p["spec"][k], mode="lines", name=p["lab"][k],
            line=dict(color=cols[k], width=1.7, shape="spline", smoothing=1.0),
            xaxis="x" + xs, yaxis="y" + xs, hoverinfo="skip"))

    x0, x1 = COLS[c]
    y0, y1 = ROWS[r]
    if c < 2:
        yr = [-0.08, 1.61]
        ymaj = [round(0.2 * i, 1) for i in range(9)]
        ymin = [round(0.1 + 0.2 * i, 1) for i in range(8)]
    else:
        yr = [-0.06, 1.30] if r < 2 else [-0.03, 1.31]
        ymaj = [round(0.2 * i, 1) for i in range(7)]
        ymin = [round(0.1 + 0.2 * i, 1) for i in range(6)]

    layout["xaxis" + xs] = dict(
        domain=[px(x0), px(x1)], anchor="y" + xs, range=[324, 700],
        tickvals=[400, 500, 600, 700], ticks="inside", ticklen=5, tickwidth=1, tickcolor=AXC,
        minor=dict(tickvals=[350, 450, 550, 650], ticks="inside", ticklen=3, tickcolor=AXC),
        showticklabels=(r == 2), tickfont=dict(size=16, color=TXT, family=FONT),
        ticklabelstandoff=-3,
        showline=True, linecolor=AXC, linewidth=1, mirror=True,
        showgrid=False, zeroline=False, fixedrange=True)
    layout["yaxis" + xs] = dict(
        domain=[py(y1), py(y0)], anchor="x" + xs, range=yr,
        tickvals=ymaj, tickformat=".1f", ticks="inside", ticklen=5, tickwidth=1, tickcolor=AXC,
        minor=dict(tickvals=ymin, ticks="inside", ticklen=3, tickcolor=AXC),
        tickfont=dict(size=15, color=TXT, family=FONT),
        showline=True, linecolor=AXC, linewidth=1, mirror=True,
        showgrid=False, zeroline=False, fixedrange=True)

    # legend (drawn manually, compact rows)
    k = 0
    for (lx0, lx1, tx, cnt) in p["leg"]:
        for j in range(cnt):
            yy = p["ly"] + j * p["ldy"]
            shapes.append(dict(type="line", xref="paper", yref="paper",
                               x0=px(lx0), x1=px(lx1), y0=py(yy), y1=py(yy),
                               line=dict(color=cols[k], width=2)))
            annos.append(dict(text=p["lab"][k], xref="paper", yref="paper",
                              x=px(tx), y=py(yy), xanchor="left", yanchor="middle",
                              showarrow=False, font=dict(size=7.5, color=TXT, family=FONT)))
            k += 1

    # panel titles
    for (txt, colr, tx, ty) in p["title"]:
        annos.append(dict(text=txt, xref="paper", yref="paper", x=px(tx), y=py(ty),
                          xanchor="left", yanchor="middle", showarrow=False,
                          font=dict(size=17, color=colr, family=FONT, weight="bold")))
    if p["tarrow"]:
        tx0, tx1, ty = p["tarrow"]
        annos.append(dict(text="", xref="paper", yref="paper", x=px(tx1), y=py(ty),
                          ax=tx0 - tx1, ay=0, showarrow=True, arrowhead=2, arrowsize=1,
                          arrowwidth=1.4, arrowcolor="#111111"))
    for (ax_, ytail, ytip) in p["arrows"]:
        annos.append(dict(text="", xref="paper", yref="paper", x=px(ax_), y=py(ytip),
                          ax=0, ay=ytail - ytip, showarrow=True, arrowhead=2, arrowsize=1,
                          arrowwidth=1.1, arrowcolor="#111111"))

# axis titles
for xc in (18, 431, 841):
    annos.append(dict(text="Absorbance (AU)", xref="paper", yref="paper", x=px(xc), y=py(240),
                      textangle=-90, showarrow=False, xanchor="center", yanchor="middle",
                      font=dict(size=15.5, color=TXT, family=FONT)))
for xc in (246, 659, 1070):
    annos.append(dict(text="Wavelength (nm)", xref="paper", yref="paper", x=px(xc), y=py(494),
                      showarrow=False, xanchor="center", yanchor="middle",
                      font=dict(size=15.5, color=TXT, family=FONT)))

layout["shapes"] = shapes
layout["annotations"] = annos
fig.update_layout(**layout)
fig.write_html("out.html")
